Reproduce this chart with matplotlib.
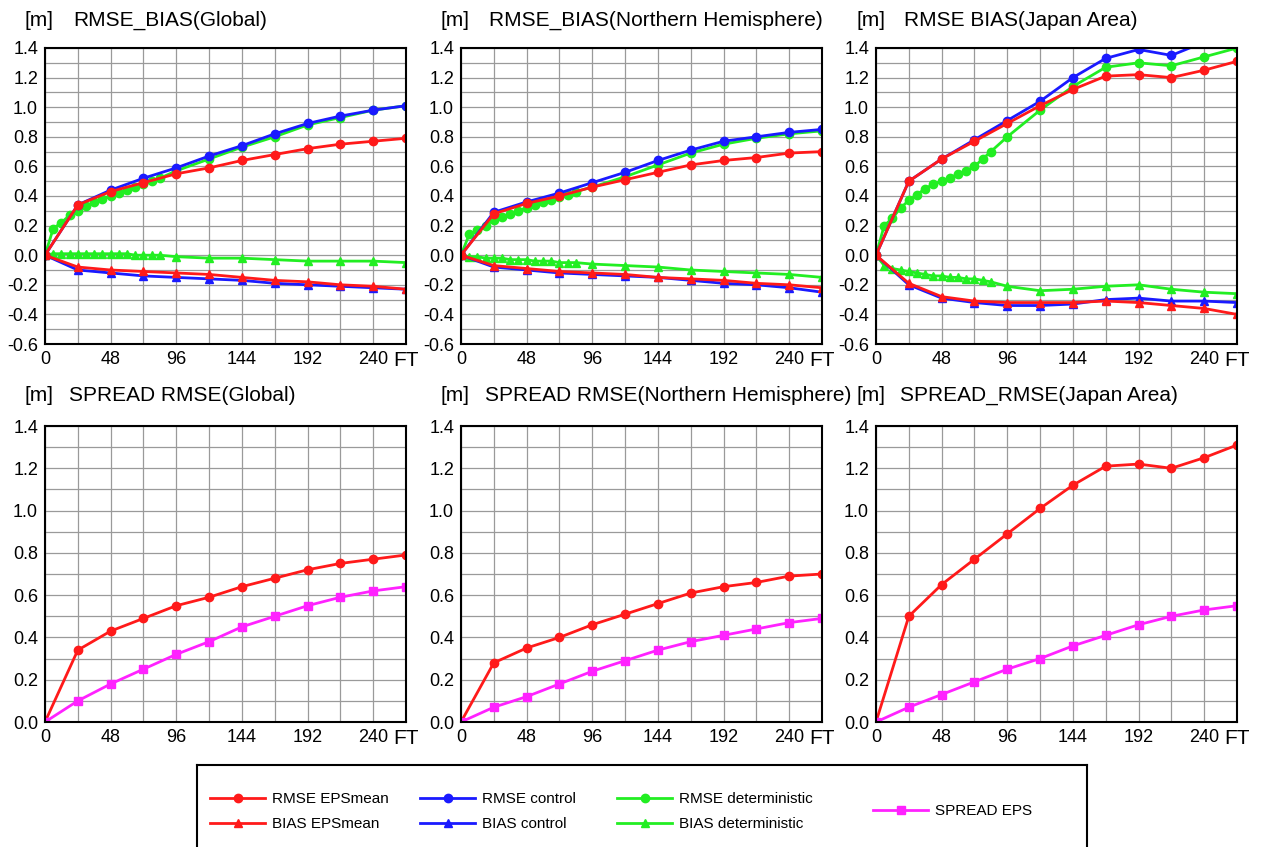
import matplotlib
matplotlib.use("Agg")
import matplotlib.pyplot as plt

plt.rcParams["font.family"] = ["Liberation Sans", "DejaVu Sans"]
plt.rcParams["axes.unicode_minus"] = False

# forecast times (hours)
ft = [0, 24, 48, 72, 96, 120, 144, 168, 192, 216, 240, 264]
ft_det = [0, 6, 12, 18, 24, 30, 36, 42, 48, 54, 60, 66, 72, 78, 84,
          96, 120, 144, 168, 192, 216, 240, 264]

# Global
glb_rmse_eps = [0, 0.34, 0.43, 0.49, 0.55, 0.59, 0.64, 0.68, 0.72, 0.75, 0.77, 0.79]
glb_rmse_ctl = [0, 0.34, 0.44, 0.52, 0.59, 0.67, 0.74, 0.82, 0.89, 0.94, 0.98, 1.01]
glb_rmse_det = [0, 0.18, 0.22, 0.27, 0.30, 0.33, 0.36, 0.38, 0.40, 0.42, 0.44, 0.46,
                0.48, 0.50, 0.52, 0.57, 0.65, 0.73, 0.80, 0.88, 0.93, 0.98, 1.01]
glb_bias_eps = [0, -0.08, -0.10, -0.11, -0.12, -0.13, -0.15, -0.17, -0.18, -0.20, -0.21, -0.23]
glb_bias_ctl = [0, -0.10, -0.12, -0.14, -0.15, -0.16, -0.17, -0.19, -0.20, -0.21, -0.22, -0.23]
glb_bias_det = [0, 0.01, 0.01, 0.01, 0.01, 0.01, 0.01, 0.01, 0.01, 0.01, 0.01, 0.0,
                0.0, 0.0, 0.0, -0.01, -0.02, -0.02, -0.03, -0.04, -0.04, -0.04, -0.05]
glb_spread = [0, 0.10, 0.18, 0.25, 0.32, 0.38, 0.45, 0.50, 0.55, 0.59, 0.62, 0.64]

# Northern Hemisphere
nh_rmse_eps = [0, 0.28, 0.35, 0.40, 0.46, 0.51, 0.56, 0.61, 0.64, 0.66, 0.69, 0.70]
nh_rmse_ctl = [0, 0.29, 0.36, 0.42, 0.49, 0.56, 0.64, 0.71, 0.77, 0.80, 0.83, 0.85]
nh_rmse_det = [0, 0.14, 0.17, 0.20, 0.24, 0.26, 0.28, 0.30, 0.32, 0.34, 0.36, 0.37,
               0.39, 0.41, 0.43, 0.46, 0.53, 0.61, 0.69, 0.75, 0.79, 0.82, 0.84]
nh_bias_eps = [0, -0.07, -0.09, -0.11, -0.12, -0.13, -0.15, -0.16, -0.17, -0.19, -0.20, -0.22]
nh_bias_ctl = [0, -0.08, -0.10, -0.12, -0.13, -0.14, -0.15, -0.17, -0.19, -0.20, -0.22, -0.25]
nh_bias_det = [0, -0.01, -0.01, -0.02, -0.02, -0.02, -0.03, -0.03, -0.03, -0.04, -0.04, -0.04,
               -0.05, -0.05, -0.05, -0.06, -0.07, -0.08, -0.10, -0.11, -0.12, -0.13, -0.15]
nh_spread = [0, 0.07, 0.12, 0.18, 0.24, 0.29, 0.34, 0.38, 0.41, 0.44, 0.47, 0.49]

# Japan Area
jp_rmse_eps = [0, 0.50, 0.65, 0.77, 0.89, 1.01, 1.12, 1.21, 1.22, 1.20, 1.25, 1.31]
jp_rmse_ctl = [0, 0.50, 0.65, 0.78, 0.91, 1.04, 1.20, 1.33, 1.39, 1.35, 1.44, 1.48]
jp_rmse_det = [0, 0.20, 0.25, 0.32, 0.37, 0.41, 0.45, 0.48, 0.50, 0.52, 0.55, 0.57,
               0.60, 0.65, 0.70, 0.80, 0.98, 1.14, 1.27, 1.30, 1.28, 1.34, 1.40]
jp_bias_eps = [0, -0.19, -0.28, -0.31, -0.32, -0.32, -0.32, -0.31, -0.32, -0.34, -0.36, -0.40]
jp_bias_ctl = [0, -0.20, -0.29, -0.32, -0.34, -0.34, -0.33, -0.30, -0.29, -0.31, -0.31, -0.32]
jp_bias_det = [0, -0.07, -0.09, -0.10, -0.11, -0.12, -0.13, -0.14, -0.14, -0.15, -0.15, -0.16,
               -0.16, -0.17, -0.18, -0.21, -0.24, -0.23, -0.21, -0.20, -0.23, -0.25, -0.26]
jp_spread = [0, 0.07, 0.13, 0.19, 0.25, 0.30, 0.36, 0.41, 0.46, 0.50, 0.53, 0.55]

top_titles = ["RMSE_BIAS(Global)", "RMSE_BIAS(Northern Hemisphere)", "RMSE BIAS(Japan Area)"]
bot_titles = ["SPREAD RMSE(Global)", "SPREAD RMSE(Northern Hemisphere)", "SPREAD_RMSE(Japan Area)"]

regions = [
    (glb_rmse_eps, glb_rmse_ctl, glb_rmse_det, glb_bias_eps, glb_bias_ctl, glb_bias_det, glb_spread),
    (nh_rmse_eps, nh_rmse_ctl, nh_rmse_det, nh_bias_eps, nh_bias_ctl, nh_bias_det, nh_spread),
    (jp_rmse_eps, jp_rmse_ctl, jp_rmse_det, jp_bias_eps, jp_bias_ctl, jp_bias_det, jp_spread),
]

RED = "#ff1a1a"
BLUE = "#1a1aff"
GREEN = "#22ee22"
MAGENTA = "#ff22ff"

W, H = 1265, 847
fig = plt.figure(figsize=(12.65, 8.47), dpi=100)


def px_axes(left, top, right, bottom):
    return fig.add_axes([left / W, 1 - bottom / H, (right - left) / W, (bottom - top) / H])


def style_axes(ax, ymin):
    ax.set_xlim(0, 264)
    ax.set_ylim(ymin, 1.4)
    ax.set_xticks([0, 48, 96, 144, 192, 240, 264])
    ax.set_xticklabels(["0", "48", "96", "144", "192", "240", "FT"])
    ax.set_xticks(range(0, 265, 24), minor=True)
    n = int(round((1.4 - ymin) / 0.2))
    yt = [round(ymin + 0.2 * i, 1) for i in range(n + 1)]
    ax.set_yticks(yt)
    ax.set_yticklabels([f"{v:.1f}" for v in yt])
    ax.set_yticks([round(ymin + 0.1 * i, 1) for i in range(2 * n + 1)], minor=True)
    ax.grid(True, which="both", color="#9a9a9a", linewidth=0.9)
    ax.set_axisbelow(True)
    ax.tick_params(which="both", length=0, labelsize=13, pad=5)
    ft_lbl = ax.get_xticklabels()[-1]
    ft_lbl.set_fontsize(15)
    for s in ax.spines.values():
        s.set_linewidth(1.5)
        s.set_color("black")


cols_left = [45, 461, 876]
lw = 2.0
ms = 6

handles = {}
for i, (r_eps, r_ctl, r_det, b_eps, b_ctl, b_det, spr) in enumerate(regions):
    left = cols_left[i]
    ax = px_axes(left, 48, left + 361, 344)
    style_axes(ax, -0.6)
    h1, = ax.plot(ft_det, r_det, color=GREEN, lw=lw, marker="o", ms=ms, label="RMSE deterministic")
    h2, = ax.plot(ft_det, b_det, color=GREEN, lw=lw, marker="^", ms=ms, label="BIAS deterministic")
    h3, = ax.plot(ft, r_ctl, color=BLUE, lw=lw, marker="o", ms=ms, label="RMSE control")
    h4, = ax.plot(ft, b_ctl, color=BLUE, lw=lw, marker="^", ms=ms, label="BIAS control")
    h5, = ax.plot(ft, r_eps, color=RED, lw=lw, marker="o", ms=ms, label="RMSE EPSmean")
    h6, = ax.plot(ft, b_eps, color=RED, lw=lw, marker="^", ms=ms, label="BIAS EPSmean")
    handles.update({"rdet": h1, "bdet": h2, "rctl": h3, "bctl": h4, "reps": h5, "beps": h6})
    fig.text((left - 20) / W, 1 - 20 / H, "[m]", fontsize=15, va="center", ha="left")
    fig.text((left + 28) / W, 1 - 20 / H, top_titles[i], fontsize=15, va="center", ha="left")

    ax2 = px_axes(left, 426, left + 361, 722)
    style_axes(ax2, 0.0)
    ax2.plot(ft, r_eps, color=RED, lw=lw, marker="o", ms=ms)
    h7, = ax2.plot(ft, spr, color=MAGENTA, lw=lw, marker="s", ms=ms, label="SPREAD EPS")
    handles["spr"] = h7
    fig.text((left - 20) / W, 1 - 395 / H, "[m]", fontsize=15, va="center", ha="left")
    fig.text((left + 24) / W, 1 - 395 / H, bot_titles[i], fontsize=15, va="center", ha="left")

# legend box
lax = px_axes(197, 765, 1087, 860)
lax.set_xticks([])
lax.set_yticks([])
for s in lax.spines.values():
    s.set_linewidth(1.5)
lax.patch.set_alpha(0)

leg_cols = [
    (210, ["reps", "beps"], ["RMSE EPSmean", "BIAS EPSmean"]),
    (420, ["rctl", "bctl"], ["RMSE control", "BIAS control"]),
    (617, ["rdet", "bdet"], ["RMSE deterministic", "BIAS deterministic"]),
]
leg_kw = dict(frameon=False, fontsize=11, handlelength=3.6, handletextpad=0.45,
              labelspacing=0.75, borderpad=0, borderaxespad=0, loc="upper left")
for x0, keys, labels in leg_cols:
    leg = lax.legend([handles[k] for k in keys], labels,
                     bbox_to_anchor=((x0 - 197) / 890, 1 - (792 - 765) / 95), **leg_kw)
    lax.add_artist(leg)
lax.legend([handles["spr"]], ["SPREAD EPS"],
           bbox_to_anchor=((873 - 197) / 890, 1 - (804 - 765) / 95), **leg_kw)

fig.savefig("out.png", dpi=100)
